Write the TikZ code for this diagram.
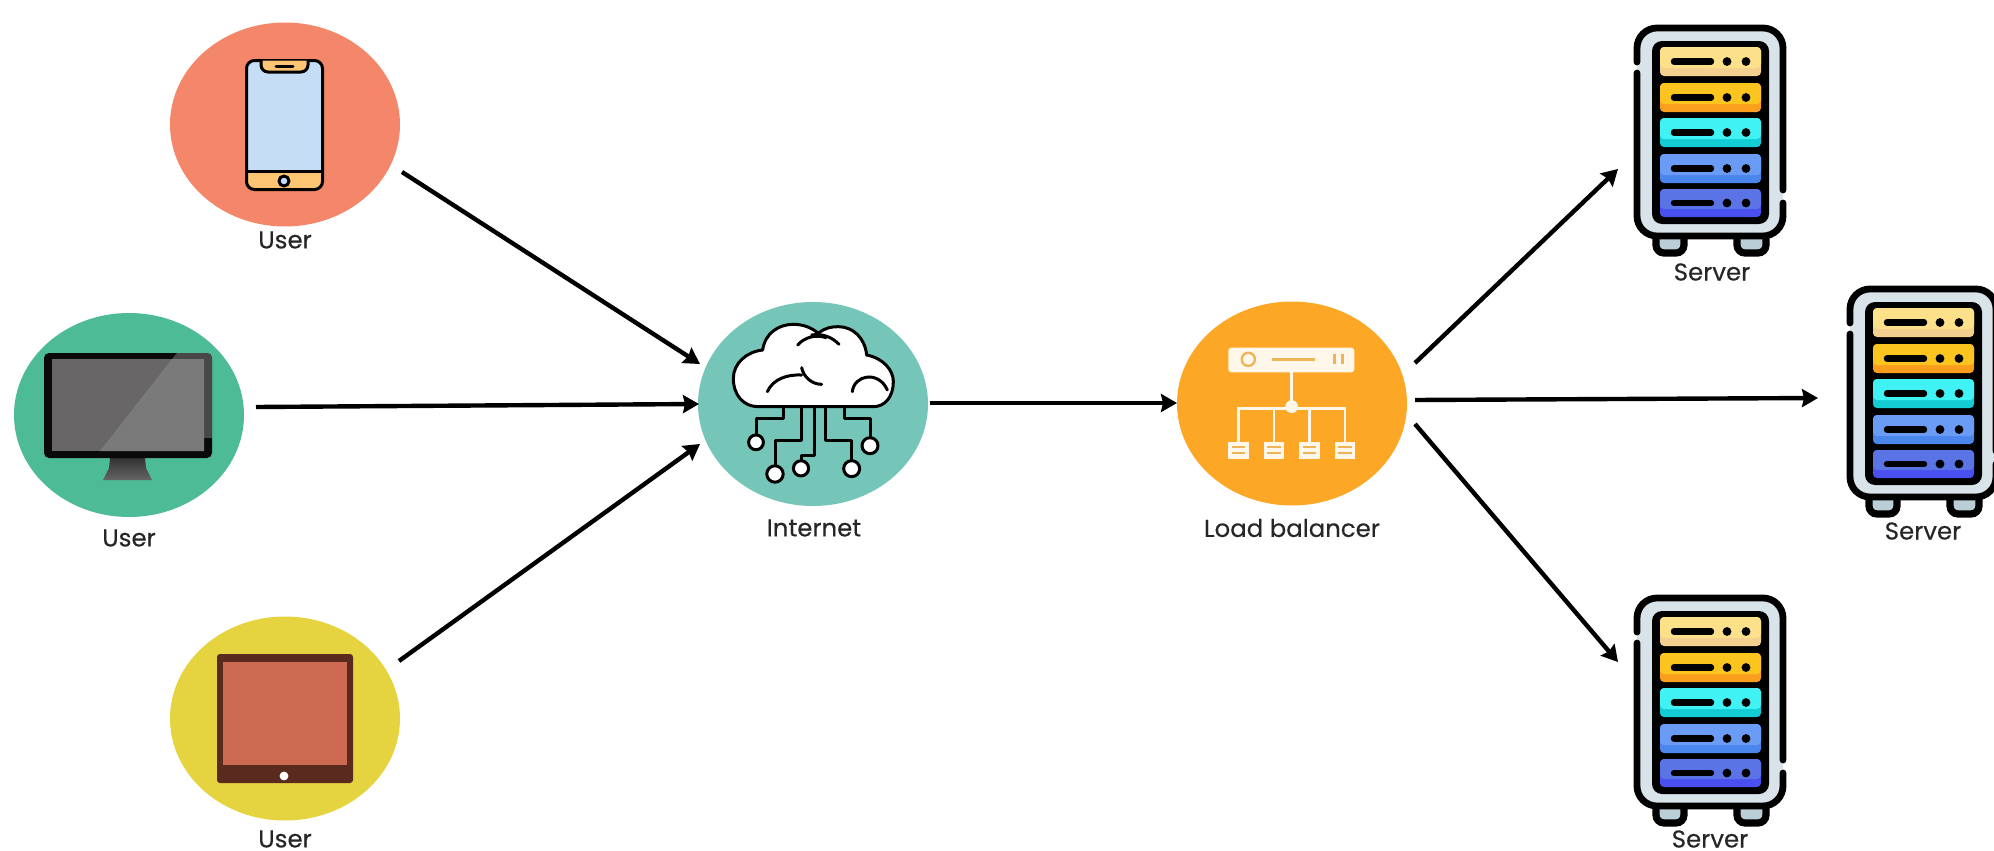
\documentclass[tikz,border=0pt]{standalone}
\usepackage{fontspec}
\setmainfont{Poppins}[FakeBold=0.3]
\usetikzlibrary{arrows.meta,shapes.geometric}
\definecolor{inkc}{HTML}{262626}
\definecolor{footc}{HTML}{B9CED6}
\definecolor{bodyc}{HTML}{D9E4EA}
\definecolor{rowAt}{HTML}{FDE08A}\definecolor{rowAb}{HTML}{F3CF90}
\definecolor{rowBt}{HTML}{FCC41E}\definecolor{rowBb}{HTML}{FB9E1E}
\definecolor{rowCt}{HTML}{41F2F5}\definecolor{rowCb}{HTML}{14CDD4}
\definecolor{rowDt}{HTML}{6A9CF6}\definecolor{rowDb}{HTML}{4A86EC}
\definecolor{rowEt}{HTML}{5B74E5}\definecolor{rowEb}{HTML}{4A50F0}
\definecolor{lbcream}{HTML}{FFF8EA}
\definecolor{lbtan}{HTML}{EDB555}
\definecolor{discphone}{RGB}{244,134,106}
\definecolor{discmonitor}{RGB}{77,187,150}
\definecolor{disctablet}{RGB}{229,211,63}
\definecolor{discnet}{RGB}{117,198,185}
\definecolor{disclb}{RGB}{253,167,38}
\definecolor{phonescreen}{RGB}{197,222,245}
\definecolor{phoneband}{RGB}{252,196,115}
\definecolor{monA}{RGB}{50,50,50}
\definecolor{monB}{RGB}{102,102,102}
\definecolor{monframe}{RGB}{10,10,10}
\definecolor{monglint}{RGB}{72,72,72}
\definecolor{monscr}{RGB}{104,102,102}
\definecolor{monscrb}{RGB}{122,122,122}
\definecolor{tabframe}{RGB}{90,42,30}
\definecolor{tabscr}{RGB}{205,106,82}
\tikzset{
  disc/.style={ellipse,inner sep=0pt,minimum width=115pt,minimum height=102pt},
  lbl/.style={font=\fontsize{12.2}{14}\selectfont,text=inkc,inner sep=0pt,anchor=center},
  flow/.style={line width=2.2pt,black,-{Stealth[length=8pt,width=9pt,inset=1pt]}},
  icon/.style={line width=1.5pt,black,line join=round,line cap=round},
  cloudline/.style={line width=1.5pt,black,line cap=round,line join=round},
  lbline/.style={line width=1.2pt,color=#1},
  server/.pic={
    \begin{scope}[shift={(-1634,-24)}]
      \filldraw[line width=3.6pt,black,fill=footc,rounded corners=4pt] (1656,232) -- (1656,253) -- (1684,253) -- (1684,232);
      \filldraw[line width=3.6pt,black,fill=footc,rounded corners=4pt] (1737,232) -- (1737,253) -- (1766,253) -- (1766,232);
      \fill[bodyc,rounded corners=10pt] (1637,28) rectangle (1783,236);
      \draw[line width=3.4pt,line cap=round,rounded corners=10pt] (1637,62) -- (1637,28) -- (1783,28) -- (1783,190);
      \draw[line width=3.4pt,line cap=round,rounded corners=10pt] (1783,203) -- (1783,236) -- (1637,236) -- (1637,73);
      \fill[black,rounded corners=5pt] (1652,41) rectangle (1769,224);
      \foreach \ya/\yb/\ct/\cb in {47/76/rowAt/rowAb,83/112/rowBt/rowBb,118/147/rowCt/rowCb,154/183/rowDt/rowDb,189/217/rowEt/rowEb}{
        \fill[\cb,rounded corners=2pt] (1660,\ya) rectangle (1761,\yb);
        \fill[\ct,rounded corners=2pt] (1660,\ya) rectangle (1761,\yb-8);
        \draw[black,line width=3.2pt,line cap=round] (1674,{(\ya+\yb)/2}) -- (1711,{(\ya+\yb)/2});
        \fill[black] (1727,{(\ya+\yb)/2}) circle (2.2pt);
        \fill[black] (1746,{(\ya+\yb)/2}) circle (2.2pt);
      }
    \end{scope}
  }
}
\begin{document}
\begin{tikzpicture}[x=0.5pt,y=-0.5pt]
\clip (0,0) rectangle (1994,851);
\fill[white] (0,0) rectangle (1994,851);

% discs
\node[disc,fill=discphone] (phone) at (285,124.5) {};
\node[disc,fill=discmonitor] (monitor) at (129,415) {};
\node[disc,fill=disctablet] (tablet) at (285,718.5) {};
\node[disc,fill=discnet] (internet) at (813,404) {};
\node[disc,fill=disclb] (balancer) at (1292,403.5) {};

% phone icon
\fill[phonescreen,rounded corners=4pt] (246.5,60.5) rectangle (322.5,189.5);
\begin{scope}
  \clip[rounded corners=4pt] (246.5,60.5) rectangle (322.5,189.5);
  \fill[phoneband] (246.5,171) rectangle (322.5,189.5);
\end{scope}
\draw[icon,rounded corners=4pt] (246.5,60.5) rectangle (322.5,189.5);
\draw[icon] (246.5,171) -- (322.5,171);
\filldraw[icon,fill=phoneband,rounded corners=3.5pt] (261,60.5) -- (261,72) -- (308,72) -- (308,60.5);
\draw[icon] (276,66) -- (293,66);
\filldraw[icon,fill=phonescreen] (284,181) circle (2.5pt);

% monitor icon
\shade[top color=monA,bottom color=monB] (110,458) -- (145,458) -- (146,468) -- (152,480) -- (103,480) -- (109,468) -- cycle;
\fill[monframe,rounded corners=2.5pt] (44,353) rectangle (212,458);
\begin{scope}
  \clip[rounded corners=2.5pt] (44,353) rectangle (212,458);
  \fill[monglint] (177,353) -- (212,353) -- (212,438) -- (204,438) -- (204,359) -- (172,359) -- cycle;
\end{scope}
\fill[monscr] (52,359) rectangle (204,451);
\fill[monscrb] (172,359) -- (204,359) -- (204,451) -- (100,451) -- cycle;

% tablet icon
\fill[tabframe,rounded corners=1.5pt] (217,654) rectangle (353,783);
\fill[tabscr] (223,662) rectangle (347,765);
\fill[white] (284,776) circle (2.2pt);

% cloud icon
\begin{scope}[shift={(690,295)},x=0.16667pt,y=-0.16667pt]
  \foreach \xa/\ya/\xb/\yb/\xc/\yc in {
      280/340/280/370/198/420,
      335/340/335/435/255/515,
      372/340/372/480/333/498,
      407/340/407/435/485/498,
      462/340/462/370/540/430}{
    \draw[cloudline] (\xa,\ya) -- (\xb,\yb) -| (\xc,\yc);
  }
  \foreach \cx/\cy/\r in {198/442/3.7,255/537/4.1,333/520/3.8,485/521/4,540/452/4}{
    \filldraw[cloudline,fill=white] (\cx,\cy) circle (\r pt);
  }
  \filldraw[cloudline,fill=white] (205,335)
    .. controls (160,335) and (130,300) .. (130,250)
    .. controls (130,205) and (170,170) .. (218,165)
    .. controls (225,115) and (265,88) .. (310,88)
    .. controls (340,88) and (365,98) .. (385,115)
    .. controls (405,98) and (425,95) .. (445,95)
    .. controls (490,95) and (525,130) .. (530,180)
    .. controls (580,190) and (610,225) .. (610,260)
    .. controls (610,305) and (585,335) .. (550,335)
    -- cycle;
  \draw[cloudline] (323,150) .. controls (345,125) and (380,118) .. (408,128);
  \draw[cloudline] (447,148) .. controls (425,125) and (395,115) .. (365,120);
  \draw[cloudline] (232,290) .. controls (250,250) and (295,238) .. (335,240);
  \draw[cloudline] (335,218) .. controls (340,245) and (365,268) .. (395,268);
  \draw[cloudline] (487,290) .. controls (492,240) and (565,225) .. (592,285);
\end{scope}

% balancer icon
\begin{scope}[shift={(1165,295)},x=0.16667pt,y=-0.16667pt]
  \fill[lbcream,rounded corners=1.5pt] (190,158) rectangle (568,232);
  \draw[lbline=lbtan] (250,193) circle (3.3pt);
  \draw[lbline=lbtan] (322,193) -- (450,193);
  \draw[lbline=lbtan,line width=1.2pt] (508,178) -- (508,208) (532,178) -- (532,208);
  \draw[lbline=lbcream] (380,232) -- (380,335);
  \fill[lbcream] (380,335) circle (3.2pt);
  \draw[lbline=lbcream] (220,440) |- (380,340) -| (540,440);
  \draw[lbline=lbcream] (327,340) -- (327,440) (433,340) -- (433,440);
  \foreach \bx in {220,327,433,540}{
    \fill[lbcream] (\bx-31,440) rectangle (\bx+31,492);
    \draw[lbline=lbtan,line width=1pt] (\bx-20,457) -- (\bx+20,457) (\bx-20,475) -- (\bx+20,475);
  }
\end{scope}

% servers
\pic at (1634,24) {server};
\pic at (1847,285) {server};
\pic at (1634,594) {server};

% labels
\node[lbl] (userA) at (285,240) {User};
\node[lbl] (userB) at (129,538) {User};
\node[lbl] (userC) at (285,839) {User};
\node[lbl] (netlabel) at (814,528) {Internet};
\node[lbl] (lblabel) at (1292,528) {Load balancer};
\node[lbl] (srvA) at (1712,272) {Server};
\node[lbl] (srvB) at (1923,531) {Server};
\node[lbl] (srvC) at (1710,839) {Server};

% connector ends
\coordinate (phoneOut) at (402,172);
\coordinate (monitorOut) at (256,407);
\coordinate (tabletOut) at (399,661);
\coordinate (netInA) at (700,364);
\coordinate (netInB) at (699,404);
\coordinate (netInC) at (700,444);
\coordinate (netOut) at (930,403);
\coordinate (lbIn) at (1177,403);
\coordinate (lbOutA) at (1415,363);
\coordinate (lbOutB) at (1415,400);
\coordinate (lbOutC) at (1415,424);
\coordinate (srvInA) at (1618,169);
\coordinate (srvInB) at (1818,398);
\coordinate (srvInC) at (1618,662);

\draw[flow] (phoneOut) -- (netInA);
\draw[flow] (monitorOut) -- (netInB);
\draw[flow] (tabletOut) -- (netInC);
\draw[flow] (netOut) -- (lbIn);
\draw[flow] (lbOutA) -- (srvInA);
\draw[flow] (lbOutB) -- (srvInB);
\draw[flow] (lbOutC) -- (srvInC);
\end{tikzpicture}
\end{document}
